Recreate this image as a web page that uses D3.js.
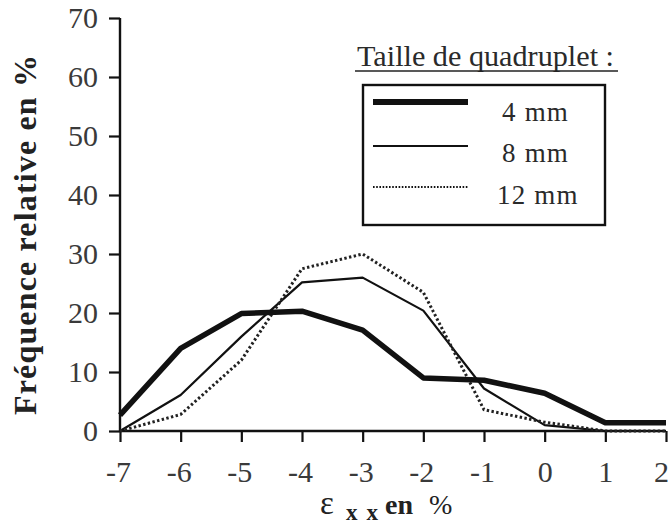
<!DOCTYPE html>
<html><head><meta charset="utf-8">
<script src="https://cdn.jsdelivr.net/npm/d3@7"></script>
<style>body{margin:0;background:#fff}svg{display:block}text{font-family:"Liberation Serif",serif}</style>
</head><body><svg id="c" width="672" height="524"></svg>
<script>
const xValues = [-7,-6,-5,-4,-3,-2,-1,0,1,2];
const s4mm  = [2.7,14.0,19.9,20.3,17.1,9.0,8.6,6.4,1.4,1.4];
const s8mm  = [0,6.1,16.0,25.2,26.0,20.4,7.2,1.0,0,0];
const s12mm = [0,2.8,12.0,27.5,30.0,23.5,3.6,1.5,0,0];
const seriesNames = ["4 mm","8 mm","12 mm"];
const yTicks = [0,10,20,30,40,50,60,70];
const legendTitle = "Taille de quadruplet :";
const yTitle = "Fréquence relative en %";

const svg = d3.select("#c");
const x = d3.scaleLinear().domain([-7,2]).range([120,666]);
const y = d3.scaleLinear().domain([0,70]).range([431,18]);
const serif = "Liberation Serif";

// axes
const xAxis = svg.append("g").attr("transform","translate(0,431)")
  .call(d3.axisBottom(x).tickValues(xValues).tickSize(11).tickPadding(19).tickFormat(d3.format("d")));
const yAxis = svg.append("g").attr("transform","translate(120,0)")
  .call(d3.axisLeft(y).tickValues(yTicks).tickSize(11).tickPadding(11));
[xAxis,yAxis].forEach(a=>{
  a.attr("font-family",serif).attr("font-size",30);
  a.select(".domain").attr("stroke","#111").attr("stroke-width",2.4);
  a.selectAll(".tick line").attr("stroke","#111").attr("stroke-width",2.2);
  a.selectAll(".tick text").style("font-family",serif).attr("font-size",30).attr("fill","#3a3a3a");
});
xAxis.selectAll(".tick text").text(d=>d<0? "-"+Math.abs(d) : d).attr("dx",d=>d<0?-2:(d==2?-5:0));
yAxis.select(".domain").attr("d","M0,431V18");
xAxis.select(".domain").attr("d","M120,0H666");

// lines
const line = d3.line().x((d,i)=>x(xValues[i])).y(d=>y(d));
svg.append("path").datum(s8mm).attr("d",line).attr("fill","none").attr("stroke","#111").attr("stroke-width",2.2).attr("stroke-linejoin","round");
svg.append("path").datum(s12mm).attr("d",line).attr("fill","none").attr("stroke","#222").attr("stroke-width",3).attr("stroke-dasharray","2.4,2.4");
svg.append("path").datum(s4mm).attr("d",line).attr("fill","none").attr("stroke","#111").attr("stroke-width",5.5).attr("stroke-linejoin","round");

// y title
svg.append("text").attr("transform","translate(36,235) rotate(-90)")
  .attr("text-anchor","middle").style("font-family",serif).attr("font-weight","bold")
  .attr("font-size",32).attr("fill","#222").attr("textLength",360).attr("lengthAdjust","spacing")
  .text(yTitle);

// x title
const tg = svg.append("g").attr("fill","#222");
tg.append("text").attr("x",320).attr("y",514).attr("font-size",33).text("ε");
tg.append("text").attr("x",346).attr("y",520).attr("font-size",23).attr("font-weight","bold")
  .attr("textLength",32).attr("lengthAdjust","spacing").text("x x");
tg.append("text").attr("x",385).attr("y",514).attr("font-size",28).attr("font-weight","bold").text("en");
tg.append("text").attr("x",429).attr("y",514).attr("font-size",28).text("%");

// legend
svg.append("text").attr("x",357).attr("y",66).attr("font-size",30).attr("fill","#2a2a2a")
  .attr("textLength",257).attr("lengthAdjust","spacingAndGlyphs").text(legendTitle);
svg.append("line").attr("x1",355).attr("x2",618).attr("y1",71).attr("y2",71).attr("stroke","#222").attr("stroke-width",1.5);
svg.append("rect").attr("x",363).attr("y",85).attr("width",242).attr("height",140).attr("fill","none").attr("stroke","#111").attr("stroke-width",2.4);
const legY = [102,146,187];
const legText = [121,162,204];
const legStyles = [{w:6,d:null},{w:2.2,d:null},{w:1.8,d:"1.6,1.6"}];
seriesNames.forEach((n,i)=>{
  svg.append("line").attr("x1",373).attr("x2",468).attr("y1",legY[i]).attr("y2",legY[i])
    .attr("stroke","#111").attr("stroke-width",legStyles[i].w).attr("stroke-dasharray",legStyles[i].d);
  svg.append("text").attr("x",i==2?497:502).attr("y",legText[i]).attr("font-size",27)
    .attr("letter-spacing",1.2).attr("fill","#2a2a2a").text(n);
});
</script></body></html>
